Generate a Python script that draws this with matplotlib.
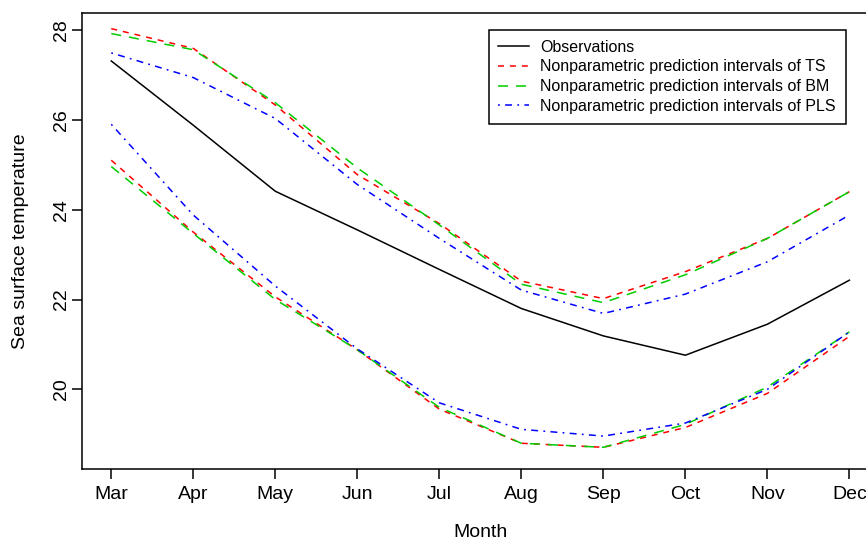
import matplotlib
matplotlib.use("Agg")
import matplotlib.pyplot as plt

# ============================================================
# DATA
# ============================================================
months    = ["Mar", "Apr", "May", "Jun", "Jul", "Aug", "Sep", "Oct", "Nov", "Dec"]
obs       = [27.31, 25.88, 24.41, 23.55, 22.67, 21.80, 21.19, 20.76, 21.45, 22.43]
ts_upper  = [28.03, 27.59, 26.33, 24.78, 23.69, 22.41, 22.02, 22.62, 23.36, 24.40]
ts_lower  = [25.10, 23.50, 22.06, 20.88, 19.56, 18.80, 18.71, 19.15, 19.91, 21.18]
bm_upper  = [27.92, 27.56, 26.38, 24.93, 23.66, 22.34, 21.93, 22.55, 23.36, 24.40]
bm_lower  = [24.96, 23.47, 22.00, 20.88, 19.60, 18.80, 18.71, 19.22, 20.05, 21.28]
pls_upper = [27.49, 26.94, 26.03, 24.56, 23.36, 22.21, 21.69, 22.12, 22.84, 23.88]
pls_lower = [25.90, 23.88, 22.30, 20.90, 19.70, 19.11, 18.96, 19.25, 20.00, 21.28]
yticks    = [20, 22, 24, 26, 28]

plt.rcParams["font.family"] = ["Liberation Sans", "DejaVu Sans"]
plt.rcParams["lines.scale_dashes"] = False

FS = 14          # axis text
FS_LEG = 11.5    # legend text
LW = 1.1
RED_DASH   = (0, (4.3, 4.3))
GREEN_DASH = (0, (7.2, 5.8))
BLUE_DASH  = (0, (1.3, 3.8, 5.0, 3.8))

fig = plt.figure(figsize=(8.66, 5.42), dpi=100)
ax = fig.add_axes([0.0943, 0.1341, 0.9207, 0.8425])

x = list(range(len(months)))
ax.plot(x, obs, color="black", lw=LW, label="Observations")
ax.plot(x, ts_upper, color="#ff0000", lw=LW, linestyle=RED_DASH,
        label="Nonparametric prediction intervals of TS")
ax.plot(x, ts_lower, color="#ff0000", lw=LW, linestyle=RED_DASH)
ax.plot(x, bm_upper, color="#00cd00", lw=LW, linestyle=GREEN_DASH,
        label="Nonparametric prediction intervals of BM")
ax.plot(x, bm_lower, color="#00cd00", lw=LW, linestyle=GREEN_DASH)
ax.plot(x, pls_upper, color="#0000ff", lw=LW, linestyle=BLUE_DASH,
        label="Nonparametric prediction intervals of PLS")
ax.plot(x, pls_lower, color="#0000ff", lw=LW, linestyle=BLUE_DASH)

ax.set_xlim(-0.361, 9.361)
ax.set_ylim(18.22, 28.385)
ax.set_xticks(x)
ax.set_xticklabels(months, fontsize=FS)
ax.set_yticks(yticks)
ax.set_yticklabels([str(v) for v in yticks], fontsize=FS, rotation=90, va="center")
ax.tick_params(axis="both", direction="out", length=7, width=LW, color="black")
ax.tick_params(axis="x", pad=5)
ax.tick_params(axis="y", pad=1.5)
for s in ax.spines.values():
    s.set_linewidth(LW)
    s.set_color("black")

ax.set_xlabel("Month", fontsize=FS, labelpad=15)
ax.set_ylabel("Sea surface temperature", fontsize=FS, labelpad=17.5)

leg = ax.legend(loc="upper right", bbox_to_anchor=(845.7 / 866, 1 - 30 / 542),
                bbox_transform=fig.transFigure, borderaxespad=0,
                fancybox=False, framealpha=1, edgecolor="black",
                fontsize=FS_LEG, handlelength=1.9, handletextpad=0.75,
                labelspacing=0.3, borderpad=0.6)
leg.get_frame().set_linewidth(LW)

fig.savefig("out.png", dpi=100)
